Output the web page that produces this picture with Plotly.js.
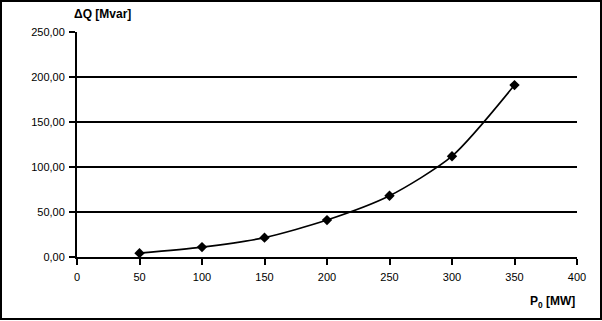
<!DOCTYPE html>
<html><head><meta charset="utf-8">
<script src="https://cdn.plot.ly/plotly-3.0.1.min.js"></script>
<style>
html,body{margin:0;padding:0;background:#fff;}
#wrap{position:relative;width:602px;height:321px;}
#chart{width:602px;height:321px;}
#frame{position:absolute;left:0;top:0;width:602px;height:320px;box-sizing:border-box;border:2px solid #000;pointer-events:none;}
</style></head>
<body>
<div id="wrap"><div id="chart"></div><div id="frame"></div></div>
<script>
const powerMW = [50, 100, 150, 200, 250, 300, 350];
const deltaQ = [4.3, 11, 21.5, 41, 68, 112, 191];
const xTicks = [0, 50, 100, 150, 200, 250, 300, 350, 400];
const yTicks = [0, 50, 100, 150, 200, 250];

const font = {family: 'Liberation Sans, Arial, sans-serif', size: 11, color: '#000'};

Plotly.newPlot('chart', [{
  x: powerMW, y: deltaQ, type: 'scatter', mode: 'lines+markers',
  line: {color: '#000', width: 1.6, shape: 'spline', smoothing: 0.7},
  marker: {symbol: 'diamond', size: 8, color: '#000'},
  hoverinfo: 'none'
}], {
  width: 602, height: 321,
  margin: {l: 77, r: 25, t: 32, b: 64},
  paper_bgcolor: '#fff', plot_bgcolor: '#fff',
  font: font,
  separators: ',.',
  showlegend: false,
  xaxis: {
    range: [0, 400], tickvals: xTicks, ticktext: xTicks.map(String),
    showgrid: false, zeroline: false,
    showline: true, linecolor: '#000', linewidth: 2,
    ticks: 'outside', ticklen: 6, tickwidth: 2, tickcolor: '#000',
    ticklabelstandoff: 3,
    tickfont: font, fixedrange: true
  },
  yaxis: {
    range: [0, 250], tickvals: yTicks, tickformat: '.2f',
    showgrid: true, gridcolor: '#000', gridwidth: 2,
    zeroline: false,
    showline: true, linecolor: '#000', linewidth: 2,
    ticks: 'outside', ticklen: 6, tickwidth: 2, tickcolor: '#000',
    ticklabelstandoff: 2,
    tickfont: font, fixedrange: true
  },
  annotations: [
    {text: '<b>ΔQ [Mvar]</b>', xref: 'paper', yref: 'paper', x: -0.01, y: 1.08,
     xanchor: 'left', yanchor: 'middle', showarrow: false, font: {family: font.family, size: 12, color: '#000'}},
    {text: '<b>P<sub>0</sub> [MW]</b>', xref: 'paper', yref: 'paper', x: 1.0, y: -0.2,
     xanchor: 'right', yanchor: 'middle', showarrow: false, font: {family: font.family, size: 12, color: '#000'}}
  ]
}, {displayModeBar: false, staticPlot: true});
</script>
</body></html>
